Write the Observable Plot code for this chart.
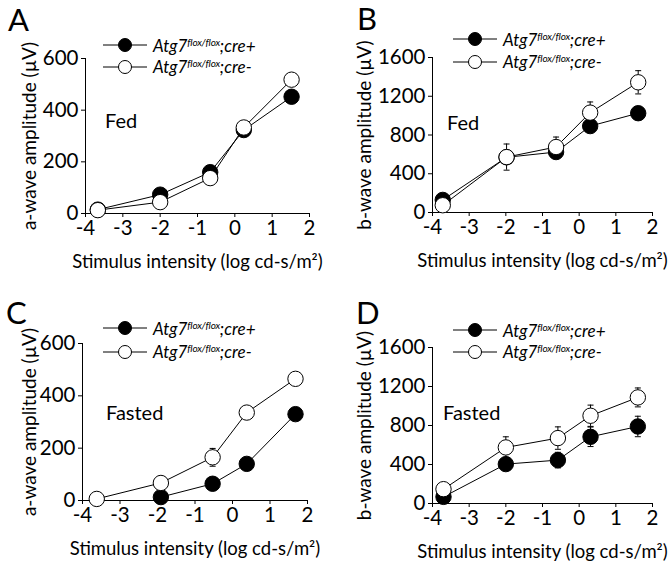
<!DOCTYPE html>
<html>
<head>
<meta charset="utf-8">
<script src="https://cdn.jsdelivr.net/npm/d3@7"></script>
<script src="https://cdn.jsdelivr.net/npm/@observablehq/plot@0.6"></script>
<style>
  body { margin: 0; background: #fff; }
  #fig { position: relative; width: 669px; height: 562px; font-family: Lato, sans-serif; color: #000; }
  .panel { position: absolute; }
  .panel g[aria-label="x-axis label"] { font-size: 18.5px; }
  .panel g[aria-label="y-axis label"] { font-size: 19px; }
  .letter { position: absolute; font-size: 31px; line-height: 1; }
  .cond { position: absolute; font-size: 20px; line-height: 1; }
  .leg { position: absolute; display: flex; align-items: center; height: 20px; }
  .leg span { font-style: italic; font-size: 17px; white-space: nowrap; margin-left: 6px; }
  .leg sup { font-size: 10px; vertical-align: 6px; letter-spacing: -0.2px; }
</style>
</head>
<body>
<div id="fig"></div>
<script>
// ---- Data ----
const seriesNames = ["cre+", "cre-"];
const xTicks = [-4, -3, -2, -1, 0, 1, 2];
const aTicks = [0, 200, 400, 600];
const bTicks = [0, 400, 800, 1200, 1600];

// Panel A: Fed, a-wave
const xA = [-3.67, -2.0, -0.66, 0.24, 1.52];
const aFedPlus = [15, 73, 160, 323, 452];
const aFedMinus = [13, 44, 137, 333, 518];
const aFedPlusErr = [0, 0, 0, 0, 0];
const aFedMinusErr = [0, 0, 0, 0, 0];

// Panel B: Fed, b-wave
const xB = [-3.72, -1.98, -0.63, 0.3, 1.61];
const bFedPlus = [130, 570, 624, 892, 1025];
const bFedMinus = [75, 572, 676, 1031, 1344];
const bFedPlusErr = [0, 0, 0, 0, 0];
const bFedMinusErr = [0, 135, 103, 110, 120];

// Panel C: Fasted, a-wave (cre+ has no point at the dimmest flash)
const xC = [-3.62, -1.91, -0.53, 0.38, 1.68];
const aFastPlus = [null, 13, 64, 140, 330];
const aFastMinus = [6, 67, 165, 336, 465];
const aFastPlusErr = [0, 0, 0, 0, 0];
const aFastMinusErr = [0, 0, 34, 0, 0];

// Panel D: Fasted, b-wave
const xD = [-3.7, -2.0, -0.58, 0.31, 1.6];
const bFastPlus = [68, 404, 445, 684, 790];
const bFastMinus = [147, 575, 671, 900, 1088];
const bFastPlusErr = [0, 0, 80, 100, 105];
const bFastMinusErr = [0, 109, 115, 109, 97];

const xLabel = "Stimulus intensity (log cd-s/m²)";
const aLabel = "a-wave amplitude (µV)";
const bLabel = "b-wave amplitude (µV)";

// ---- Layout ----
const panels = [
  {letter: "A", cond: "Fed", left: 0, top: 0, width: 335, height: 280, mt: 58, mb: 67, ml: 85, mr: 26,
   yDomain: [0, 600], yTicks: aTicks, yLabel: aLabel, yOff: 63,
   x: xA, plus: aFedPlus, minus: aFedMinus, plusErr: aFedPlusErr, minusErr: aFedMinusErr,
   letterPos: [8, 4], condPos: [105, 110], legPos: [103, 45, 66.7]},
  {letter: "B", cond: "Fed", left: 335, top: 0, width: 334, height: 280, mt: 57, mb: 68, ml: 97, mr: 17,
   yDomain: [0, 1600], yTicks: bTicks, yLabel: bLabel, yOff: 75,
   x: xB, plus: bFedPlus, minus: bFedMinus, plusErr: bFedPlusErr, minusErr: bFedMinusErr,
   letterPos: [22, 3], condPos: [112, 112], legPos: [118, 39.3, 61.7]},
  {letter: "C", cond: "Fasted", left: 0, top: 280, width: 335, height: 282, mt: 63, mb: 62, ml: 82, mr: 28,
   yDomain: [0, 600], yTicks: aTicks, yLabel: aLabel, yOff: 60,
   x: xC, plus: aFastPlus, minus: aFastMinus, plusErr: aFastPlusErr, minusErr: aFastMinusErr,
   letterPos: [6, 17], condPos: [106, 122], legPos: [103, 48.3, 71.7]},
  {letter: "D", cond: "Fasted", left: 335, top: 280, width: 334, height: 282, mt: 67, mb: 59, ml: 97, mr: 17,
   yDomain: [0, 1600], yTicks: bTicks, yLabel: bLabel, yOff: 75,
   x: xD, plus: bFastPlus, minus: bFastMinus, plusErr: bFastPlusErr, minusErr: bFastMinusErr,
   letterPos: [21, 17], condPos: [108, 122], legPos: [118, 50, 71.7]}
];

const capSymbol = {
  draw(context, size) {
    const w = Math.sqrt(size / Math.PI);
    context.moveTo(-w, 0);
    context.lineTo(w, 0);
  }
};

const fig = document.getElementById("fig");

function rows(p) {
  const out = [];
  seriesNames.forEach((s) => {
    const ys = s === "cre+" ? p.plus : p.minus;
    const es = s === "cre+" ? p.plusErr : p.minusErr;
    p.x.forEach((x, i) => {
      if (ys[i] != null) out.push({series: s, x, y: ys[i], e: es[i]});
    });
  });
  return out;
}

function legendRow(p, filled, yCenter) {
  const div = document.createElement("div");
  div.className = "leg";
  div.style.left = (p.left + p.legPos[0]) + "px";
  div.style.top = (p.top + yCenter - 10) + "px";
  div.innerHTML =
    `<svg width="44" height="20"><line x1="0" x2="44" y1="10" y2="10" stroke="#000" stroke-width="1"/>` +
    `<circle cx="22" cy="10" r="6.5" fill="${filled ? "#000" : "#fff"}" stroke="#000" stroke-width="1"/></svg>` +
    `<span>Atg7<sup>flox/flox</sup>;cre${filled ? "+" : "-"}</span>`;
  fig.appendChild(div);
}

panels.forEach((p) => {
  const data = rows(p);
  const errData = data.filter((d) => d.e > 0);
  const chart = Plot.plot({
    width: p.width,
    height: p.height,
    marginTop: p.mt,
    marginBottom: p.mb,
    marginLeft: p.ml,
    marginRight: p.mr,
    style: {fontFamily: "Lato, sans-serif", fontSize: "20.5px", color: "#000", background: "transparent"},
    x: {domain: [-4, 2], ticks: xTicks, tickFormat: (d) => String(d), tickSize: 4, tickPadding: 3,
        label: xLabel, labelAnchor: "center", labelArrow: "none", labelOffset: 54},
    y: {domain: p.yDomain, ticks: p.yTicks, tickFormat: (d) => String(d), tickSize: 4, tickPadding: 3,
        label: p.yLabel, labelAnchor: "center", labelArrow: "none", labelOffset: p.yOff},
    marks: [
      Plot.ruleY([p.yDomain[0]], {stroke: "#000", strokeWidth: 1}),
      Plot.ruleX([-4], {stroke: "#000", strokeWidth: 1}),
      Plot.line(data, {x: "x", y: "y", z: "series", stroke: "#000", strokeWidth: 1}),
      Plot.ruleX(errData, {x: "x", y1: (d) => d.y - d.e, y2: (d) => d.y + d.e, stroke: "#000", strokeWidth: 1}),
      Plot.dot(errData, {x: "x", y: (d) => d.y + d.e, symbol: capSymbol, r: 3, stroke: "#000", strokeWidth: 1, fill: "none"}),
      Plot.dot(errData, {x: "x", y: (d) => d.y - d.e, symbol: capSymbol, r: 3, stroke: "#000", strokeWidth: 1, fill: "none"}),
      Plot.dot(data.filter((d) => d.series === "cre+"), {x: "x", y: "y", r: 7.7, fill: "#000", stroke: "#000", strokeWidth: 1}),
      Plot.dot(data.filter((d) => d.series === "cre-"), {x: "x", y: "y", r: 7.7, fill: "#fff", stroke: "#000", strokeWidth: 1})
    ]
  });
  chart.classList.add("panel");
  chart.style.left = p.left + "px";
  chart.style.top = p.top + "px";
  fig.appendChild(chart);

  const letter = document.createElement("div");
  letter.className = "letter";
  letter.textContent = p.letter;
  letter.style.left = (p.left + p.letterPos[0]) + "px";
  letter.style.top = (p.top + p.letterPos[1]) + "px";
  fig.appendChild(letter);

  const cond = document.createElement("div");
  cond.className = "cond";
  cond.textContent = p.cond;
  cond.style.left = (p.left + p.condPos[0]) + "px";
  cond.style.top = (p.top + p.condPos[1]) + "px";
  fig.appendChild(cond);

  legendRow(p, true, p.legPos[1]);
  legendRow(p, false, p.legPos[2]);
});
</script>
</body>
</html>
